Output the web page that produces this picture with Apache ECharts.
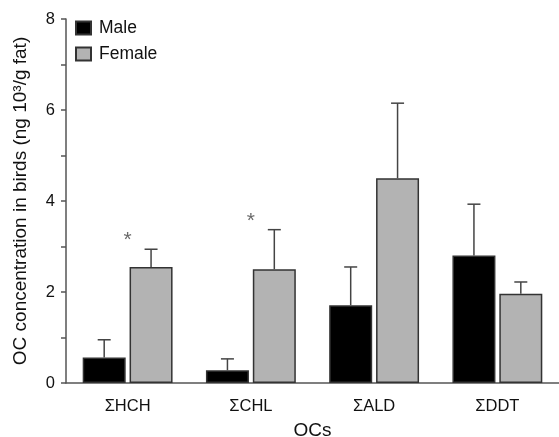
<!DOCTYPE html>
<html><head><meta charset="utf-8">
<script src="https://cdn.jsdelivr.net/npm/echarts@6/dist/echarts.min.js"></script>
<style>html,body{margin:0;padding:0;background:#fff}#c{width:559px;height:437px}</style>
</head><body><div id="c"></div>
<script>
const categories = ['ΣHCH', 'ΣCHL', 'ΣALD', 'ΣDDT'];
const maleMean = [0.56, 0.28, 1.71, 2.80];
const maleUpper = [0.95, 0.53, 2.55, 3.93];
const femaleMean = [2.55, 2.50, 4.50, 1.96];
const femaleUpper = [2.94, 3.37, 6.15, 2.22];
const asteriskY = [3.2, 3.62, null, null];
const yTicks = [0, 2, 4, 6, 8];

const FONT = '"Liberation Sans", Arial, Helvetica, sans-serif';
const BAR_W = 43;
const GAP_PCT = 0.09;
const OFFSET = (BAR_W + BAR_W * GAP_PCT) / 2;

function errData(mean, upper) {
  return categories.map((c, i) => [i, mean[i], upper[i]]);
}
function errRender(dir) {
  return function (params, api) {
    const i = api.value(0);
    const p0 = api.coord([i, api.value(1)]);
    const p1 = api.coord([i, api.value(2)]);
    const x = p0[0] + dir * OFFSET;
    const cap = 6.5;
    const style = { stroke: '#444', lineWidth: 1.5, fill: null };
    return {
      type: 'group',
      children: [
        { type: 'line', shape: { x1: x, y1: p0[1], x2: x, y2: p1[1] }, style },
        { type: 'line', shape: { x1: x - cap, y1: p1[1], x2: x + cap, y2: p1[1] }, style }
      ]
    };
  };
}

const chart = echarts.init(document.getElementById('c'));
chart.setOption({
  animation: false,
  textStyle: { fontFamily: FONT },
  grid: { left: 66, right: 0, top: 19, bottom: 54, containLabel: false, outerBoundsMode: 'none' },
  legend: {
    orient: 'vertical', left: 70, top: 14, itemWidth: 15, itemHeight: 13, itemGap: 8,
    icon: 'rect',
    textStyle: { fontSize: 17.5, color: '#111', fontFamily: FONT, padding: [0, 0, 0, 3] },
    data: ['Male', 'Female']
  },
  xAxis: {
    type: 'category', data: categories,
    name: 'OCs', nameLocation: 'middle', nameGap: 38,
    nameTextStyle: { fontSize: 19, color: '#111', fontFamily: FONT },
    axisLine: { lineStyle: { color: '#555', width: 1.5 } },
    axisTick: { show: false },
    axisLabel: { fontSize: 16.5, color: '#111', margin: 15, fontFamily: FONT }
  },
  yAxis: {
    type: 'value', min: 0, max: 8, interval: 1,
    name: 'OC concentration in birds (ng 10³/g fat)', nameLocation: 'middle', nameGap: 36,
    nameTextStyle: { fontSize: 19, color: '#111', fontFamily: FONT },
    splitLine: { show: false },
    axisLine: { show: true, lineStyle: { color: '#555', width: 1.5 } },
    axisTick: { show: true, length: 5, lineStyle: { color: '#555', width: 1.5 } },
    axisLabel: {
      fontSize: 16.5, color: '#111', margin: 11, fontFamily: FONT,
      formatter: v => (yTicks.indexOf(v) >= 0 ? String(v) : '')
    }
  },
  series: [
    {
      name: 'Male', type: 'bar', data: maleMean, barWidth: BAR_W, barGap: (GAP_PCT * 100) + '%',
      itemStyle: { color: '#000', borderColor: '#333', borderWidth: 1.5 }
    },
    {
      name: 'Female', type: 'bar', data: femaleMean, barWidth: BAR_W,
      itemStyle: { color: '#b3b3b3', borderColor: '#333', borderWidth: 1.5 }
    },
    {
      type: 'custom', renderItem: errRender(-1), data: errData(maleMean, maleUpper),
      encode: { x: 0, y: [1, 2] }, z: 3, silent: true
    },
    {
      type: 'custom', renderItem: errRender(1), data: errData(femaleMean, femaleUpper),
      encode: { x: 0, y: [1, 2] }, z: 3, silent: true
    },
    {
      type: 'scatter', data: asteriskY, symbolSize: 0, silent: true,
      label: { show: true, position: 'inside', formatter: '*', fontSize: 21, color: '#444', offset: [0, 3], fontFamily: FONT }
    }
  ]
});
</script></body></html>
